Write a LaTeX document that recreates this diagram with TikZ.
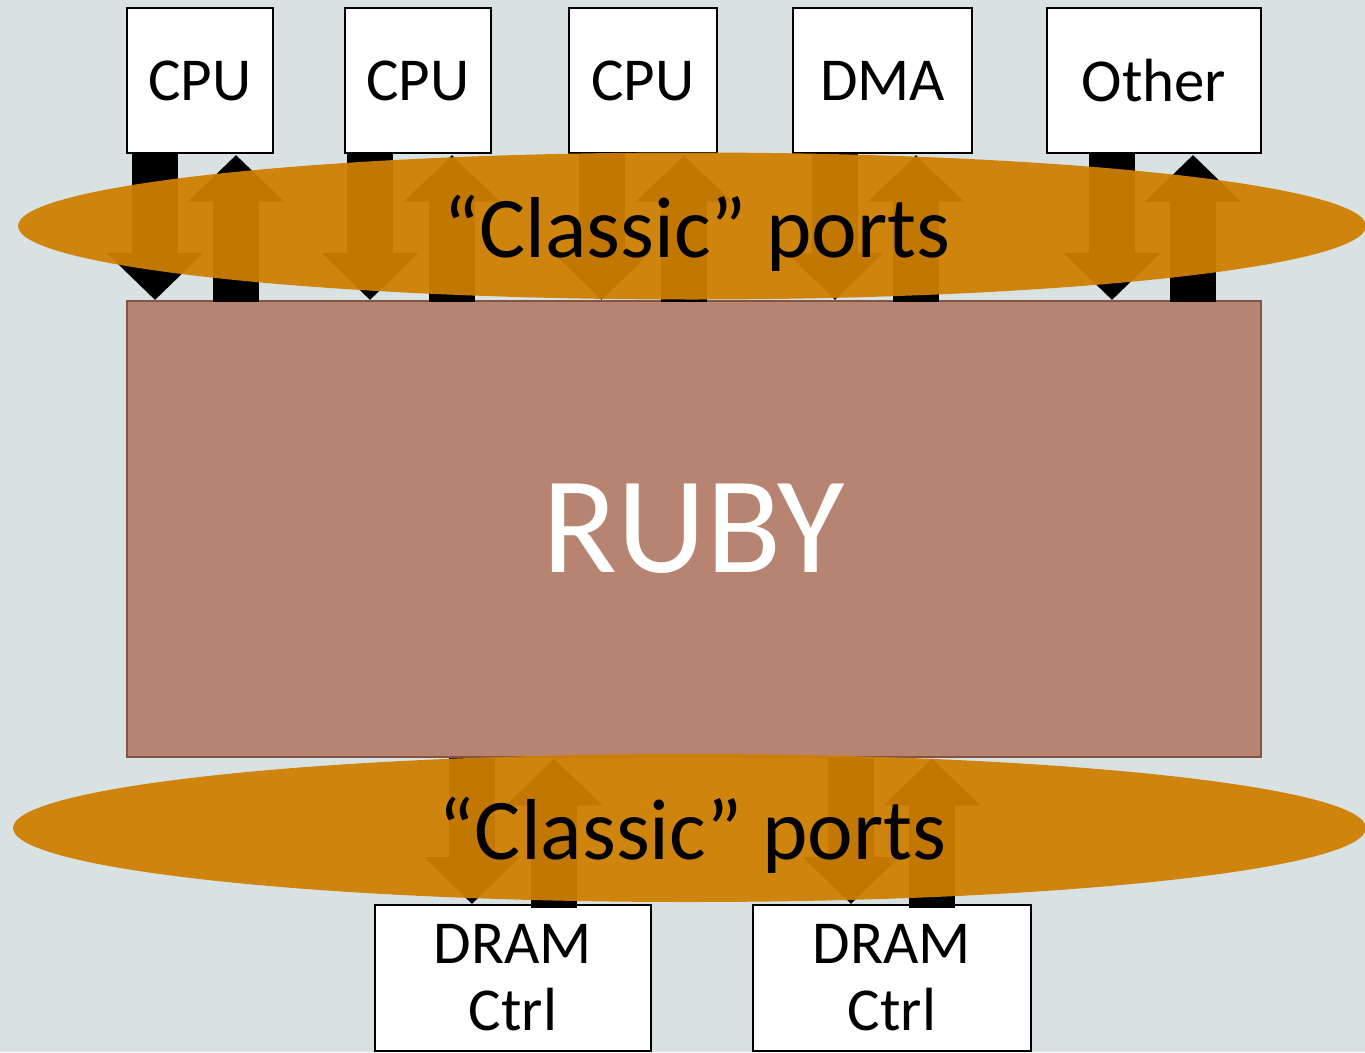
\documentclass[tikz,border=0pt]{standalone}
\usepackage{fontspec}
\setmainfont{Carlito}
\usetikzlibrary{arrows.meta,shapes.geometric,calc}
\definecolor{canvas}{RGB}{217,226,227}
\definecolor{rubyfill}{RGB}{184,132,114}
\definecolor{rubyedge}{RGB}{128,84,70}
\definecolor{portorange}{RGB}{207,128,0}
\begin{document}
\begin{tikzpicture}[x=1pt,y=-1pt,
  unit/.style={draw=black, line width=2pt, fill=white, inner sep=0pt,
    anchor=north west, align=center, font=\fontsize{61}{67}\selectfont},
  flow/.style={line width=46pt, -{Triangle[width=94pt,length=47pt]}},
  portband/.style={ellipse, fill=portorange, fill opacity=0.94, draw=none, inner sep=0pt},
  portlabel/.style={anchor=base, font=\fontsize{86.5}{86.5}\selectfont}]
\useasboundingbox (0,0) rectangle (1365,1052);
\fill[canvas] (0,0) rectangle (1365,1052);
\clip (0,0) rectangle (1365,1052);

% requestors on top
\node[unit, minimum width=146pt, minimum height=145pt] (cpuA) at (126,7) {CPU};
\node[unit, minimum width=146pt, minimum height=145pt] (cpuB) at (344,7) {CPU};
\node[unit, minimum width=148pt, minimum height=145pt] (cpuC) at (568,7) {CPU};
\node[unit, minimum width=179pt, minimum height=145pt] (dma) at (792,7) {DMA};
\node[unit, minimum width=214pt, minimum height=145pt] (other) at (1046,7) {Other};

% memory system
\node[draw=rubyedge, line width=1.5pt, fill=rubyfill, anchor=north west,
  minimum width=1134pt, minimum height=456pt, text=white,
  font=\fontsize{138}{138}\selectfont] (ruby) at (126,300) {RUBY};

% memory controllers
\node[unit, minimum width=276pt, minimum height=146pt] (dramA) at (374,904) {DRAM\\Ctrl};
\node[unit, minimum width=278pt, minimum height=146pt] (dramB) at (752,904) {DRAM\\Ctrl};

% request / response ports, top side
\foreach \n/\dn/\up in {cpuA/-45/36, cpuB/-48/34, cpuC/-41.5/41, dma/-47.5/33.5, other/-42/39}{
  \draw[flow] ($(\n.south)+(\dn,0)$) -- ($(\n.south |- ruby.north)+(\dn,0)$);
  \draw[flow] ($(\n.south |- ruby.north)+(\up,2)$) -- ($(\n.south)+(\up,1)$);
}

% request / response ports, bottom side
\foreach \n/\dn/\up in {dramA/-41/41, dramB/-41/40}{
  \draw[flow] ($(\n.north |- ruby.south)+(\dn,0)$) -- ($(\n.north)+(\dn,0)$);
  \draw[flow] ($(\n.north)+(\up,4)$) -- ($(\n.north |- ruby.south)+(\up,1)$);
}

% port bands
\node[portband, minimum width=1348pt, minimum height=147pt] (topband) at (692,226) {};
\node[portband, minimum width=1353pt, minimum height=148pt] (lowband) at (689.5,828) {};
\node[portlabel] (toplabel) at (697,257) {“Classic” ports};
\node[portlabel] (lowlabel) at (692.5,859) {“Classic” ports};
\end{tikzpicture}
\end{document}
